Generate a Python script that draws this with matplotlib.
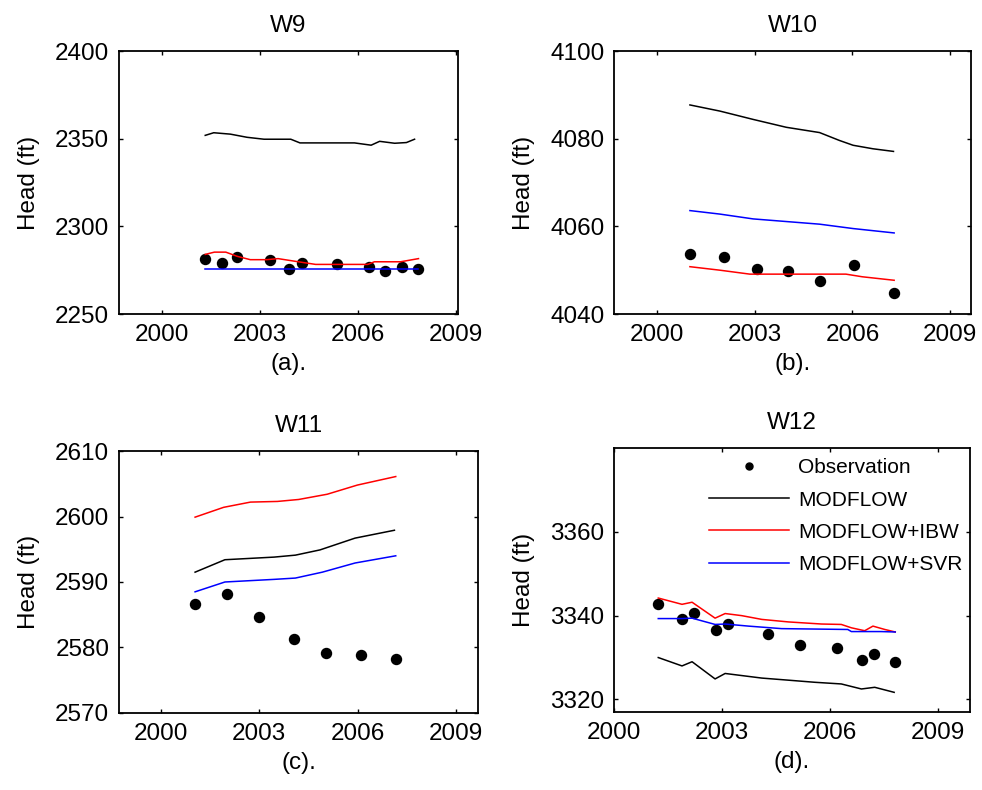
import numpy as np
import matplotlib
matplotlib.use("Agg")
import matplotlib.pyplot as plt

plt.rcParams['font.family'] = ['Liberation Sans', 'DejaVu Sans']
plt.rcParams['font.size'] = 17.5

# W9
w9_obs_t = [2001.32, 2001.84, 2002.30, 2003.30, 2003.87, 2004.28, 2005.34, 2006.32, 2006.81, 2007.35, 2007.82]
w9_obs = [2281.5, 2279.2, 2282.6, 2280.6, 2275.5, 2279.2, 2278.3, 2276.8, 2274.5, 2276.8, 2275.8]
w9_mf_t = [2001.32, 2001.58, 2002.09, 2002.60, 2003.12, 2003.94, 2004.22, 2005.89, 2006.40, 2006.66, 2007.12, 2007.48, 2007.73]
w9_mf = [2351.9, 2353.4, 2352.6, 2350.8, 2349.7, 2349.7, 2347.6, 2347.6, 2346.3, 2348.5, 2347.4, 2347.8, 2349.7]
w9_ibw_t = [2001.32, 2001.60, 2001.95, 2002.30, 2002.70, 2003.20, 2003.55, 2004.10, 2004.70, 2006.30, 2006.50, 2007.30, 2007.85]
w9_ibw = [2284.0, 2285.3, 2285.3, 2282.9, 2281.0, 2281.0, 2281.6, 2280.0, 2278.3, 2278.3, 2279.8, 2279.8, 2281.6]
w9_svr_t = [2001.32, 2007.85]
w9_svr = [2275.8, 2275.8]

# W10
w10_obs_t = [2001.01, 2002.06, 2003.06, 2004.03, 2005.00, 2006.06, 2007.28]
w10_obs = [4053.6, 4053.1, 4050.3, 4049.8, 4047.6, 4051.2, 4044.8]
w10_mf_t = [2001.01, 2001.93, 2002.95, 2003.97, 2004.99, 2005.60, 2006.02, 2006.63, 2007.26]
w10_mf = [4087.7, 4086.3, 4084.4, 4082.6, 4081.4, 4079.6, 4078.5, 4077.7, 4077.1]
w10_ibw_t = [2001.01, 2001.93, 2002.85, 2005.80, 2006.30, 2007.28]
w10_ibw = [4050.8, 4050.0, 4049.1, 4049.1, 4048.5, 4047.7]
w10_svr_t = [2001.01, 2001.93, 2002.95, 2003.97, 2004.99, 2006.02, 2007.28]
w10_svr = [4063.6, 4062.8, 4061.7, 4061.1, 4060.5, 4059.5, 4058.5]

# W11
w11_obs_t = [2001.04, 2002.02, 2003.00, 2004.05, 2005.04, 2006.09, 2007.17]
w11_obs = [2586.6, 2588.2, 2584.6, 2581.3, 2579.2, 2578.8, 2578.2]
w11_mf_t = [2001.04, 2001.95, 2003.45, 2004.10, 2004.85, 2005.92, 2007.12]
w11_mf = [2591.5, 2593.4, 2593.8, 2594.1, 2594.9, 2596.7, 2597.9]
w11_ibw_t = [2001.04, 2001.91, 2002.73, 2003.55, 2004.20, 2005.07, 2005.99, 2007.16]
w11_ibw = [2599.9, 2601.4, 2602.2, 2602.3, 2602.6, 2603.4, 2604.8, 2606.1]
w11_svr_t = [2001.04, 2001.95, 2003.45, 2004.10, 2004.92, 2005.92, 2007.16]
w11_svr = [2588.5, 2590.0, 2590.4, 2590.6, 2591.5, 2592.9, 2594.0]

# W12
w12_obs_t = [2001.23, 2001.89, 2002.23, 2002.84, 2003.17, 2004.29, 2005.17, 2006.21, 2006.89, 2007.23, 2007.82]
w12_obs = [3342.7, 3339.2, 3340.6, 3336.5, 3338.0, 3335.7, 3333.1, 3332.2, 3329.4, 3330.8, 3329.0]
w12_mf_t = [2001.23, 2001.89, 2002.17, 2002.81, 2003.09, 2003.46, 2004.11, 2004.85, 2005.58, 2006.32, 2006.88, 2007.25, 2007.79]
w12_mf = [3330.0, 3328.0, 3329.0, 3324.9, 3326.2, 3325.8, 3325.1, 3324.6, 3324.1, 3323.7, 3322.5, 3322.9, 3321.7]
w12_ibw_t = [2001.23, 2001.89, 2002.17, 2002.81, 2003.09, 2003.55, 2004.11, 2004.85, 2005.77, 2006.32, 2006.60, 2006.97, 2007.20, 2007.53, 2007.82]
w12_ibw = [3344.2, 3342.7, 3343.2, 3339.4, 3340.5, 3340.0, 3339.1, 3338.5, 3338.0, 3337.9, 3337.1, 3336.4, 3337.5, 3336.7, 3336.1]
w12_svr_t = [2001.23, 2001.89, 2002.17, 2002.81, 2003.09, 2003.74, 2004.66, 2006.50, 2006.60, 2007.42, 2007.82]
w12_svr = [3339.3, 3339.3, 3339.4, 3337.9, 3338.0, 3337.5, 3336.9, 3336.7, 3336.2, 3336.2, 3336.1]

years = [2000, 2003, 2006, 2009]

panels = [
    dict(title="W9", sub="(a).", rect=[0.1212, 0.6025, 0.3452, 0.3329], xlim=(1998.68, 2009.06),
         ylim=(2250, 2400), yticks=[2250, 2300, 2350, 2400],
         obs=(w9_obs_t, w9_obs), mf=(w9_mf_t, w9_mf), ibw=(w9_ibw_t, w9_ibw), svr=(w9_svr_t, w9_svr)),
    dict(title="W10", sub="(b).", rect=[0.6253, 0.6025, 0.3635, 0.3329], xlim=(1998.68, 2009.64),
         ylim=(4040, 4100), yticks=[4040, 4060, 4080, 4100],
         obs=(w10_obs_t, w10_obs), mf=(w10_mf_t, w10_mf), ibw=(w10_ibw_t, w10_ibw), svr=(w10_svr_t, w10_svr)),
    dict(title="W11", sub="(c).", rect=[0.1212, 0.0975, 0.3656, 0.3316], xlim=(1998.72, 2009.67),
         ylim=(2570, 2610), yticks=[2570, 2580, 2590, 2600, 2610],
         obs=(w11_obs_t, w11_obs), mf=(w11_mf_t, w11_mf), ibw=(w11_ibw_t, w11_ibw), svr=(w11_svr_t, w11_svr)),
    dict(title="W12", sub="(d).", rect=[0.6253, 0.0987, 0.3625, 0.3342], xlim=(2000.0, 2009.9),
         ylim=(3317, 3380), yticks=[3320, 3340, 3360],
         obs=(w12_obs_t, w12_obs), mf=(w12_mf_t, w12_mf), ibw=(w12_ibw_t, w12_ibw), svr=(w12_svr_t, w12_svr)),
]

fig = plt.figure(figsize=(9.82, 7.9), dpi=100)

for i, p in enumerate(panels):
    ax = fig.add_axes(p["rect"])
    ax.plot(*p["obs"], "o", color="black", markersize=7.2, label="Observation")
    ax.plot(*p["mf"], color="black", lw=1.1, label="MODFLOW")
    ax.plot(*p["ibw"], color="red", lw=1.1, label="MODFLOW+IBW")
    ax.plot(*p["svr"], color="blue", lw=1.1, label="MODFLOW+SVR")
    ax.set_xlim(*p["xlim"])
    ax.set_ylim(*p["ylim"])
    ax.set_xticks(years)
    ax.set_yticks(p["yticks"])
    ax.tick_params(direction="in", length=3, width=1, pad=7, top=True, right=True, labelsize=17.5)
    for s in ax.spines.values():
        s.set_linewidth(1.3)
    ax.set_title(p["title"], fontsize=17.5, pad=14)
    ax.set_xlabel(p["sub"], fontsize=17.5, labelpad=5)
    ax.set_ylabel("Head (ft)", fontsize=17.5, labelpad=11)
    if i == 3:
        ax.legend(loc="upper left", bbox_to_anchor=(0.2435, 0.992), borderaxespad=0, frameon=False,
                  fontsize=15, handlelength=3.84, handletextpad=0.43, labelspacing=0.63, markerscale=0.7)

fig.savefig("out.png", dpi=100)
